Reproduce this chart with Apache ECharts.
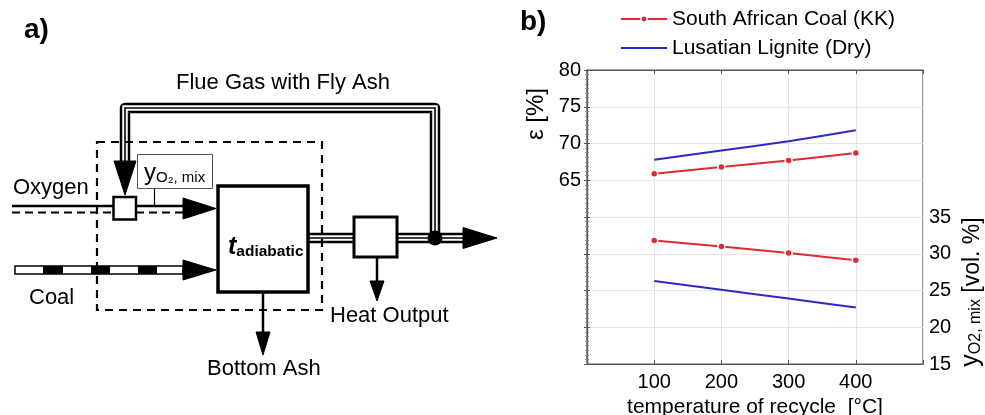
<!DOCTYPE html>
<html><head><meta charset="utf-8">
<script src="https://cdn.jsdelivr.net/npm/echarts@6/dist/echarts.min.js"></script>
<style>html,body{margin:0;padding:0;background:#fff}#c{width:985px;height:415px}</style>
</head><body><div id="c"></div>
<script>
// ---- data ----
const temps = [100, 200, 300, 400];
const epsSouthAfrican = [65.9, 66.8, 67.7, 68.7];
const epsLusatian = [67.8, 69.05, 70.3, 71.8];
const yO2SouthAfrican = [31.8, 31.0, 30.1, 29.1];
const yO2Lusatian = [26.3, 25.1, 23.9, 22.7];
const seriesNames = ['South African Coal (KK)', 'Lusatian Lignite (Dry)'];
const leftTickLabels = [65, 70, 75, 80];
const rightTickLabels = [15, 20, 25, 30, 35];
const xTickLabels = [100, 200, 300, 400];

const FONT = '"Liberation Sans", Arial, Helvetica, sans-serif';
const RED = '#e02a2e', BLUE = '#2a2ac4', FRAME = '#555';

function pairs(xs, ys) { return xs.map((x, i) => [x, ys[i]]); }

// ---- schematic helpers ----
const G = [];
function pl(points, lw, extra) { G.push({type: 'polyline', shape: {points}, style: Object.assign({stroke: '#000', lineWidth: lw, fill: null}, extra || {})}); }
function tri(points) { G.push({type: 'polygon', shape: {points}, style: {fill: '#000', stroke: '#000', lineWidth: 1}}); }
function rect(x, y, w, h, style) { G.push({type: 'rect', shape: {x, y, width: w, height: h}, style}); }
function triple(points) {
  pl(points, 10.5, {lineJoin: 'round'});
  pl(points, 5.5, {stroke: '#fff', lineJoin: 'miter'});
  pl(points, 1.6, {lineJoin: 'miter'});
}
function txt(text, x, y, style) {
  G.push({type: 'text', x, y, style: Object.assign({text, fill: '#000', font: '22px ' + FONT, textAlign: 'left', textVerticalAlign: 'middle'}, style || {})});
}

// flue gas recycle
triple([[435, 238], [435, 108], [125, 108], [125, 163]]);
tri([[114, 161], [136, 161], [125, 195]]);
// outputs
triple([[306, 238], [355, 238]]);
triple([[396, 238], [466, 238]]);
tri([[463, 227.5], [463, 248.5], [497, 238]]);
G.push({type: 'circle', shape: {cx: 435, cy: 238, r: 7.5}, style: {fill: '#000'}});
// heat exchanger box
rect(354, 217, 43, 40, {fill: '#fff', stroke: '#000', lineWidth: 3});
pl([[377, 257], [377, 283]], 2.5);
tri([[370, 281], [384, 281], [377, 301]]);
// oxygen lines
pl([[12, 206], [113, 206]], 2.5);
pl([[136, 206], [185, 206]], 2.5);
pl([[12, 212.5], [113, 212.5]], 2, {lineDash: [8, 5]});
pl([[136, 212.5], [185, 212.5]], 2, {lineDash: [8, 5]});
tri([[183, 198], [183, 219], [216, 208.5]]);
// mixer
rect(113.5, 197, 22.5, 22.5, {fill: '#fff', stroke: '#000', lineWidth: 2.5});
// yO2 label box
pl([[154.5, 189], [154.5, 206]], 1.2);
rect(137.5, 154.5, 75, 34, {fill: '#fff', stroke: '#555', lineWidth: 1});
// coal bar
rect(15, 266, 168, 8, {fill: '#fff', stroke: '#000', lineWidth: 1.5});
[[43, 63], [91, 110], [138, 157]].forEach(s => rect(s[0], 266, s[1] - s[0], 8, {fill: '#000'}));
tri([[183, 260], [183, 280], [216, 270]]);
// main box
rect(218, 186, 90, 106, {fill: '#fff', stroke: '#000', lineWidth: 3.5});
// bottom ash
pl([[263, 292], [263, 334]], 2.5);
tri([[256, 332], [270, 332], [263, 355]]);
// dashed system boundary
rect(97, 142, 225, 168, {fill: null, stroke: '#000', lineWidth: 2.2, lineDash: [8, 6]});
// texts
txt('a)', 24, 30, {font: 'bold 28px ' + FONT});
txt('b)', 520, 22, {font: 'bold 28px ' + FONT});
txt('Flue Gas with Fly Ash', 176, 83);
txt('Oxygen', 13, 188);
txt('Coal', 29, 298);
txt('Heat Output', 330, 316);
txt('Bottom Ash', 207, 369);
G.push({type: 'text', x: 144, y: 172, style: {
  text: '{y|y}{s|O₂, mix}', textVerticalAlign: 'middle', fill: '#000',
  rich: {y: {fontSize: 24, fontFamily: FONT, verticalAlign: 'bottom', lineHeight: 26},
         s: {fontSize: 15, fontFamily: FONT, verticalAlign: 'bottom', lineHeight: 16}}
}});
G.push({type: 'text', x: 228, y: 246, style: {
  text: '{t|t}{a|adiabatic}', textVerticalAlign: 'middle', fill: '#000',
  rich: {t: {fontSize: 25, fontFamily: FONT, fontWeight: 'bold', fontStyle: 'italic', verticalAlign: 'bottom', lineHeight: 27},
         a: {fontSize: 15.5, fontFamily: FONT, fontWeight: 'bold', verticalAlign: 'bottom', lineHeight: 18}}
}});
// axis names of panel b
G.push({type: 'text', x: 536, y: 114, rotation: Math.PI / 2, style: {
  text: 'ε [%]', font: '24px ' + FONT, fill: '#000', textAlign: 'center', textVerticalAlign: 'middle'}});
G.push({type: 'text', x: 971, y: 292, rotation: Math.PI / 2, style: {
  text: '{y|y}{s|O2, mix}{n| [vol. %]}', textAlign: 'center', textVerticalAlign: 'middle', fill: '#000',
  rich: {y: {fontSize: 25, fontFamily: FONT, verticalAlign: 'bottom', lineHeight: 26},
         s: {fontSize: 16, fontFamily: FONT, verticalAlign: 'bottom', lineHeight: 16},
         n: {fontSize: 23, fontFamily: FONT, verticalAlign: 'bottom', lineHeight: 26}}
}});

const chart = echarts.init(document.getElementById('c'), null, {renderer: 'canvas'});
const axisText = {color: '#000', fontSize: 20, fontFamily: FONT};
chart.setOption({
  animation: false,
  backgroundColor: '#fff',
  textStyle: {fontFamily: FONT},
  grid: {left: 587, top: 70, width: 336, height: 294, outerBoundsMode: 'none', containLabel: false,
         show: true, borderColor: FRAME, borderWidth: 1.2, backgroundColor: 'transparent'},
  legend: {
    orient: 'vertical', left: 620, top: 8, padding: 0, itemWidth: 46, itemHeight: 8, itemGap: 7,
    data: [
      {name: seriesNames[0], itemStyle: {color: RED, borderColor: '#fff', borderWidth: 1.5}},
      {name: seriesNames[1], itemStyle: {opacity: 0}}
    ],
    textStyle: {fontSize: 21, fontFamily: FONT, color: '#000', lineHeight: 22}
  },
  xAxis: [{
    type: 'value', min: 0, max: 500, interval: 100,
    name: 'temperature of recycle  [°C]', nameLocation: 'middle', nameGap: 29,
    nameTextStyle: {fontSize: 21, fontFamily: FONT, color: '#000'},
    axisLine: {show: true, lineStyle: {color: FRAME, width: 1.2}},
    axisTick: {show: true, inside: true, length: 4, lineStyle: {color: FRAME}},
    splitLine: {show: true, lineStyle: {color: '#e6e6e6', width: 1}},
    axisLabel: {...axisText, margin: 8, formatter: v => xTickLabels.includes(v) ? String(v) : ''}
  }, {
    type: 'value', position: 'top', min: 0, max: 500, interval: 100,
    axisLine: {show: true, lineStyle: {color: FRAME, width: 1.2}},
    axisTick: {show: true, inside: true, length: 4, lineStyle: {color: FRAME}},
    splitLine: {show: false}, axisLabel: {show: false}
  }],
  yAxis: [{
    type: 'value', min: 40, max: 80, interval: 5,
    axisLine: {show: true, lineStyle: {color: FRAME, width: 1.2}},
    axisTick: {show: true, inside: true, length: 3, lineStyle: {color: FRAME}},
    minorTick: {show: true, splitNumber: 8, length: 2, lineStyle: {color: '#888'}},
    splitLine: {show: true, lineStyle: {color: '#e6e6e6', width: 1}},
    axisLabel: {...axisText, margin: 6, formatter: v => leftTickLabels.includes(v) ? String(v) : ''}
  }, {
    type: 'value', min: 15, max: 55, interval: 5, position: 'right',
    axisLine: {show: true, lineStyle: {color: FRAME, width: 1.2}},
    axisTick: {show: true, inside: true, length: 3, lineStyle: {color: FRAME}},
    minorTick: {show: true, splitNumber: 8, length: 2, lineStyle: {color: '#888'}},
    splitLine: {show: false},
    axisLabel: {...axisText, margin: 6, formatter: v => rightTickLabels.includes(v) ? String(v) : ''}
  }],
  series: [
    {name: seriesNames[0], type: 'line', yAxisIndex: 0, data: pairs(temps, epsSouthAfrican),
     lineStyle: {color: RED, width: 2}, itemStyle: {color: RED, borderColor: '#fff', borderWidth: 1.5},
     symbol: 'circle', symbolSize: 7, showSymbol: true},
    {name: seriesNames[1], type: 'line', yAxisIndex: 0, data: pairs(temps, epsLusatian), smooth: 0.15,
     lineStyle: {color: BLUE, width: 2}, itemStyle: {color: BLUE}, symbol: 'none'},
    {name: seriesNames[0], type: 'line', yAxisIndex: 1, data: pairs(temps, yO2SouthAfrican),
     lineStyle: {color: RED, width: 2}, itemStyle: {color: RED, borderColor: '#fff', borderWidth: 1.5},
     symbol: 'circle', symbolSize: 7, showSymbol: true},
    {name: seriesNames[1], type: 'line', yAxisIndex: 1, data: pairs(temps, yO2Lusatian), smooth: 0.15,
     lineStyle: {color: BLUE, width: 2}, itemStyle: {color: BLUE}, symbol: 'none'}
  ],
  graphic: G
});
</script></body></html>
